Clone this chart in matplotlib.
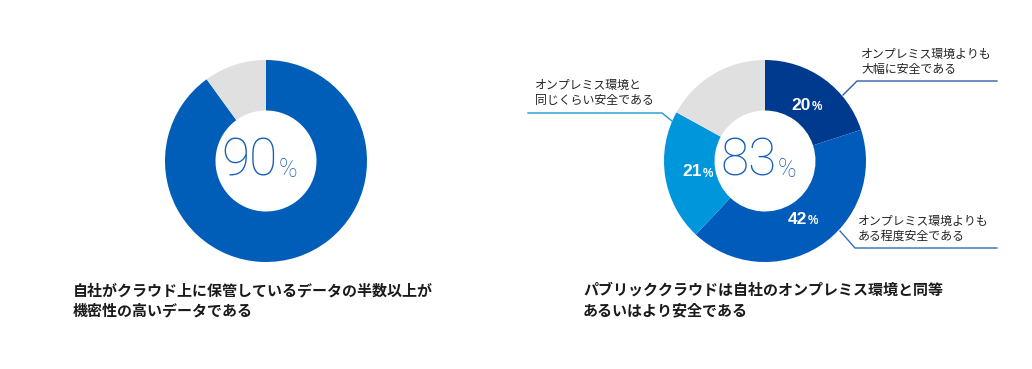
import numpy as np
import matplotlib.pyplot as plt

plt.rcParams['font.family'] = ['Noto Sans CJK JP', 'DejaVu Sans']

W, H = 1032, 369

# left donut: share of sensitive data
left_values = [90, 10]
left_colors = ['#005eb8', '#e0e0e0']
left_total = '90'

# right donut: public cloud vs on-premise
right_values = [20, 42, 21, 17]
right_colors = ['#003a8f', '#005bbb', '#0096dc', '#e0e0e0']
right_total = '83'
right_labels = ['オンプレミス環境よりも\n大幅に安全である',
                'オンプレミス環境よりも\nある程度安全である',
                'オンプレミス環境と\n同じくらい安全である']

caption_left = '自社がクラウド上に保管しているデータの半数以上が\n機密性の高いデータである'
caption_right = 'パブリッククラウドは自社のオンプレミス環境と同等\nあるいはより安全である'

R = 101
HOLE = 0.5
centers = [(266, 161), (765, 161)]


def py(y):
    # pixel y (from top) -> data y
    return H - y


fig = plt.figure(figsize=(W / 100, H / 100), dpi=100)
ax = fig.add_axes([0, 0, 1, 1])
ax.set_xlim(0, W)
ax.set_ylim(0, H)
ax.axis('off')

for (cx, cy), vals, cols, total in [(centers[0], left_values, left_colors, left_total),
                                    (centers[1], right_values, right_colors, right_total)]:
    ax.pie(vals, colors=cols, startangle=90, counterclock=False,
           center=(cx, py(cy)), radius=R, wedgeprops=dict(width=R * (1 - HOLE), linewidth=0))
    ax.text(cx + 12, py(cy), total, ha='right', va='center', fontsize=37,
            family='Roboto', fontweight='light', color='#1560b8')
    ax.text(cx + 13, py(cy + 9), '%', ha='left', va='center', fontsize=18,
            family='Roboto', fontweight='light', color='#1560b8')

ax.set_xlim(0, W)
ax.set_ylim(0, H)
ax.set_aspect('equal')

# percent labels inside the coloured wedges of the right donut
cx, cy = centers[1]
cum = np.cumsum([0] + right_values)
for i in range(3):
    mid = (cum[i] + right_values[i] / 2) / 100 * 2 * np.pi
    lx = cx + 69 * np.sin(mid)
    ly = cy - 69 * np.cos(mid)
    ax.text(lx + 5, py(ly), str(right_values[i]), ha='right', va='center',
            fontsize=12.5, fontweight='bold', family='Liberation Sans', color='white')
    ax.text(lx + 6, py(ly + 2), '%', ha='left', va='center',
            fontsize=8.5, fontweight='bold', family='Liberation Sans', color='white')

# leader lines and their labels
ax.plot([843, 857, 997], [py(95), py(81), py(81)], color='#2f5fa8', lw=1)
ax.text(861, py(62), right_labels[0], ha='left', va='center', fontsize=8.6,
        color='#222222', linespacing=1.25)
ax.plot([840, 855, 997], [py(231), py(248), py(248)], color='#2f6fb8', lw=1)
ax.text(858, py(229), right_labels[1], ha='left', va='center', fontsize=8.6,
        color='#222222', linespacing=1.25)
ax.plot([528, 662, 672], [py(113), py(113), py(121)], color='#1b9ad6', lw=1)
ax.text(535, py(93), right_labels[2], ha='left', va='center', fontsize=8.6,
        color='#222222', linespacing=1.25)

# captions
ax.text(73, py(300), caption_left, ha='left', va='center', fontsize=10.8,
        fontweight='bold', color='#1a1a1a', linespacing=1.3)
ax.text(583, py(300), caption_right, ha='left', va='center', fontsize=10.8,
        fontweight='bold', color='#1a1a1a', linespacing=1.3)

fig.savefig('out.png', dpi=100)
